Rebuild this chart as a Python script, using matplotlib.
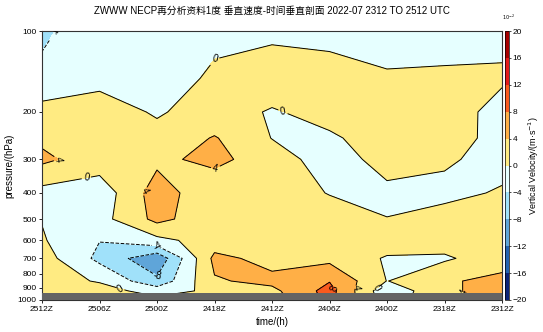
import numpy as np
import matplotlib
matplotlib.use("Agg")
import matplotlib.pyplot as plt
from matplotlib.colors import ListedColormap, BoundaryNorm
from matplotlib.ticker import NullLocator

plt.rcParams['font.family'] = ['Liberation Sans', 'Noto Sans CJK SC', 'DejaVu Sans']

# time axis, shown left to right (latest first)
time_labels = ['2512Z', '2506Z', '2500Z', '2418Z', '2412Z', '2406Z', '2400Z', '2318Z', '2312Z']
pressure = [1000, 925, 850, 700, 600, 500, 400, 300, 250, 200, 150, 100]

# vertical velocity (10^-2 m/s) per pressure level, one value per time
w_1000 = [1.5, 1.5, 1.0, 0.5, 2.0, 9.0, -2.0, 3.0, 5.0]
w_925 = [1.5, 1.5, -1.5, 0.8, 3.0, 9.5, -3.0, 3.4, 5.3]
w_850 = [1.5, -0.3, -7.0, 3.6, 5.0, 7.8, -0.1, 3.4, 5.3]
w_700 = [1.8, -5.0, -11.0, 5.0, 2.8, 3.0, -0.4, -0.5, 2.0]
w_600 = [0.37, -3.9, -1.2, 2.0, 1.5, 2.5, 2.0, 1.5, 1.5]
w_500 = [-0.15, -1.5, 5.1, 1.5, 1.5, 2.0, 0.1, 2.1, 1.5]
w_400 = [-1.5, -2.5, 6.0, 1.0, 2.0, -0.17, -1.0, -1.3, 0.5]
w_300 = [4.8, 2.0, 3.2, 5.0, 2.0, -2.0, 1.5, 0.6, -1.5]
w_250 = [3.3, 2.5, 1.0, 4.3, -0.1, -0.45, 1.46, 1.6, -1.2]
w_200 = [1.3, 1.3, -0.3, 1.3, -0.26, 1.0, 1.5, 2.5, -1.8]
w_150 = [-2.4, -0.7, -1.5, 0.5, 1.5, 1.2, 0.3, 0.45, 0.6]
w_100 = [-5.0, -0.6, -1.5, -0.6, -0.5, -0.75, -1.0, -1.0, -1.0]

surface_p = [940, 940, 940, 940, 940, 940, 940, 940, 940]

levels = np.arange(-20, 21, 4)
colors = ['#0c2478', '#2462b0', '#5fa5d9', '#a0e1fa', '#e6ffff',
          '#ffeb82', '#ffaf46', '#fa5a1e', '#e41a1a', '#a80000']

W = np.array([w_1000, w_925, w_850, w_700, w_600, w_500,
              w_400, w_300, w_250, w_200, w_150, w_100])
x = np.arange(len(time_labels))
X, P = np.meshgrid(x, pressure)

fig = plt.figure(figsize=(5.43, 3.32), dpi=100)
ax = fig.add_axes([42/543, 32/332, 460/543, 269/332])

cmap = ListedColormap(colors)
norm = BoundaryNorm(levels, cmap.N)
cf = ax.contourf(X, P, W, levels=levels, cmap=cmap, norm=norm)
cs = ax.contour(X, P, W, levels=levels, colors='k', linewidths=0.7)

# label spots (x in time index, y in hPa)
label_spots = [(0.77, 350), (1.41, 895), (3.0, 119), (4.19, 200), (5.81, 902),
               (0.35, 302), (1.83, 400), (3.0, 315), (7.4, 934), (5.48, 900),
               (5.15, 900), (2.0, 635), (2.0, 828), (0.3, 102)]
ax.clabel(cs, fmt='%d', fontsize=7, manual=label_spots, inline=True, inline_spacing=2)

ax.fill_between(x, surface_p, 1000, color='#646464', zorder=5, lw=0)

ax.set_yscale('log')
ax.set_ylim(1000, 100)
ax.set_xlim(0, len(x) - 1)
yt = [100, 200, 300, 400, 500, 600, 700, 800, 900, 1000]
ax.set_yticks(yt)
ax.set_yticklabels([str(v) for v in yt])
ax.yaxis.set_minor_locator(NullLocator())
ax.set_xticks(x)
ax.set_xticklabels(time_labels)
ax.tick_params(labelsize=6, length=2.5, width=0.6, pad=1.5)
for s in ax.spines.values():
    s.set_linewidth(0.8)
    s.set_color('#333333')

ax.set_xlabel('time/(h)', fontsize=7, labelpad=3)
ax.set_ylabel('pressure/(hPa)', fontsize=7, labelpad=2)
ax.set_title('ZWWW NECP再分析资料1度 垂直速度-时间垂直剖面 2022-07 2312 TO 2512 UTC',
             fontsize=7, pad=12)

cax = fig.add_axes([505/543, 32/332, 3.5/543, 269/332])
cb = fig.colorbar(cf, cax=cax, ticks=levels)
cb.ax.tick_params(labelsize=6, length=1.5, width=0.5, pad=1.5)
cb.outline.set_linewidth(0.5)
cb.set_label('Vertical Velocity/(m·s$^{-1}$)', fontsize=6.5, labelpad=0)
fig.text(508/543, 1 - 17/332, r'$10^{-2}$', fontsize=3.5, ha='center', va='center')

fig.savefig('out.png', dpi=100)
